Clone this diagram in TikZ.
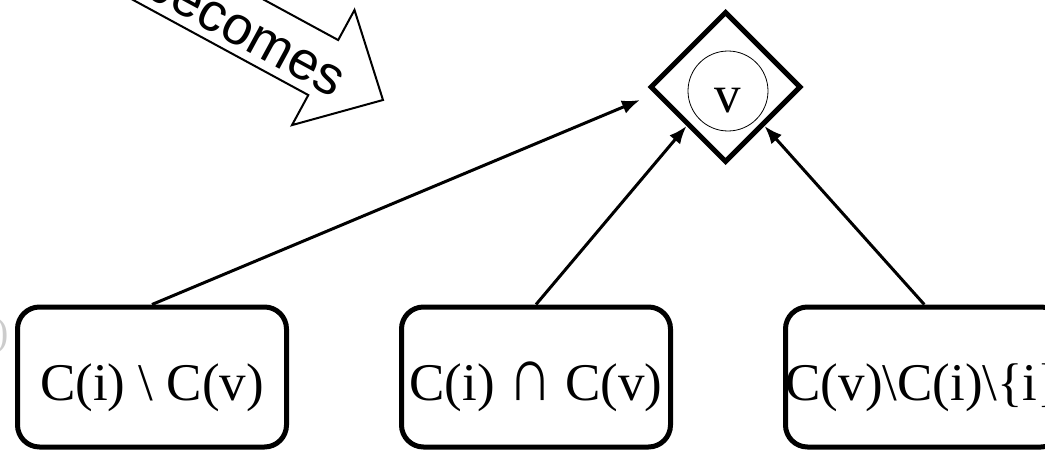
\documentclass[tikz,border=0pt]{standalone}
\usepackage{fontspec}
\setmainfont{Liberation Serif}
\setsansfont{Liberation Sans}
\usetikzlibrary{shapes.geometric, arrows.meta, positioning}

\begin{document}
\begin{tikzpicture}[x=1pt, y=-1pt, node distance=110pt, font=\fontsize{53}{60}\selectfont]
        \tikzstyle{setbox} = [rectangle, draw, line width=5pt, rounded corners=22pt, minimum width=269pt, minimum height=140pt, inner sep=0pt, text height=58pt, text depth=12pt]
        \tikzstyle{vshape} = [diamond, draw, line width=5pt, minimum size=151pt, inner sep=0pt]
        \tikzstyle{vring} = [circle, draw, line width=0.8pt, minimum size=80pt, inner sep=0pt, text height=44pt, text depth=0pt]
        \tikzstyle{line} = [draw, line width=3pt, -{Latex[length=18pt, width=14pt]}]
        \tikzstyle{bigarrow} = [draw, line width=2pt, fill=white, line join=miter]

        \clip (0,0) rectangle (1045,452);

        % block arrow, cut off at the top edge
        \begin{scope}[shift={(383,100)}, rotate=-28.5]
            \path [bigarrow] (0,0) -- (-68,-65.5) -- (-68,-31.3) -- (-420,-31.3) -- (-420,31.3) -- (-68,31.3) -- (-68,65.5) -- cycle;
            \node [anchor=base, rotate=-28.5, font=\sffamily\fontsize{54}{60}\selectfont] (becomes) at (-154,22) {becomes};
        \end{scope}

        \node [text=gray!40, anchor=east, font=\fontsize{40}{48}\selectfont] (ghost) at (12,336) {)};

        \node [vshape] (vnode) at (725.5,87) {};
        \node [vring] (vring) at (728,91) {v};

        \node [setbox] (onlyi) at (152,377) {C(i) \textbackslash{} C(v)};
        \node [setbox, right=of onlyi] (both) {C(i) \scalebox{1.15}[1.45]{∩} C(v)};
        \node [setbox, right=of both] (onlyv) {C(v)\textbackslash C(i)\textbackslash\{i\}};

        \coordinate (vwest) at (640,100);
        \path [line] (onlyi.north) -- (vwest);
        \path [line] (both.north) -- (vnode.south west);
        \path [line] (onlyv.north) -- (vnode.south east);
    \end{tikzpicture}
\end{document}
